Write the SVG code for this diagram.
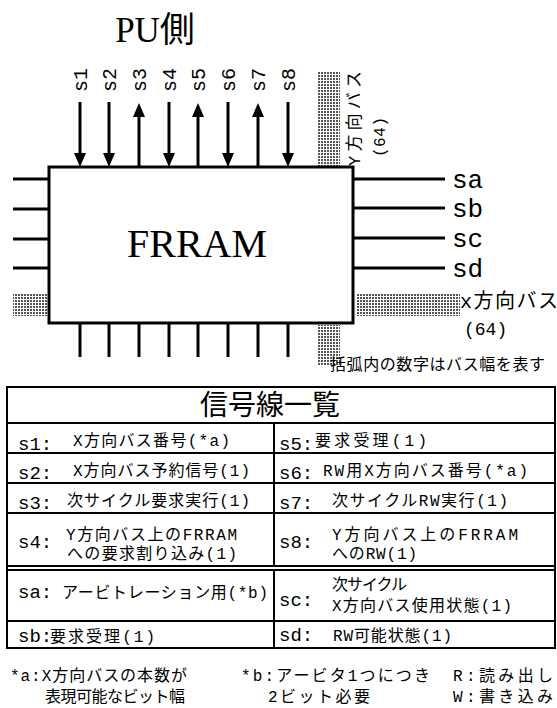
<svg xmlns="http://www.w3.org/2000/svg" width="557" height="708" viewBox="0 0 557 708">
<style>
.serif{font-family:"Liberation Serif","Noto Sans CJK JP",serif;fill:#000}
.mono{font-family:"Liberation Mono",monospace;fill:#000}
.jp{font-family:"Liberation Mono","Noto Sans CJK JP",monospace;fill:#000;font-size:16px}
.lab{font-family:"Liberation Mono",monospace;font-size:19px;fill:#000}
.wire{stroke:#000;stroke-width:3;fill:none}
.tl{stroke:#000;stroke-width:2;fill:none}
.bus{fill:url(#dots);stroke:none}
</style>
<defs>
<pattern id="dots" width="3" height="3" patternUnits="userSpaceOnUse">
<rect width="3" height="3" fill="#fff"/>
<rect width="2" height="2" fill="#555"/>
</pattern>
<marker id="ah" viewBox="0 0 14 12" refX="0" refY="6" markerWidth="14" markerHeight="12" markerUnits="userSpaceOnUse" orient="auto">
<path d="M0,0 L14,6 L0,12 z" fill="#000"/>
</marker>
</defs>
<rect width="557" height="708" fill="#fff"/>

<text class="serif" x="155" y="42" font-size="35" text-anchor="middle">PU側</text>

<g id="buses">
<rect class="bus" x="318" y="72" width="22" height="94"/>
<rect class="bus" x="318" y="325" width="22" height="40"/>
<rect class="bus" x="13" y="293" width="34" height="23"/>
<rect class="bus" x="356" y="293" width="104" height="23"/>
<text class="jp" transform="translate(360,166) rotate(-90)" textLength="95" style="font-size:17px">Y方向バス</text>
<text class="mono" font-size="16" transform="translate(385,157) rotate(-90)" textLength="40">(64)</text>
<text class="jp" x="460" y="308" style="font-size:20px" textLength="98">x方向バス</text>
<text class="mono" x="464" y="335" font-size="18">(64)</text>
<text class="jp" x="330" y="370" textLength="215">括弧内の数字はバス幅を表す</text>
</g>

<g id="connectors">
<line class="wire" x1="80" y1="102" x2="80" y2="153" marker-end="url(#ah)"/>
<line class="wire" x1="109" y1="102" x2="109" y2="153" marker-end="url(#ah)"/>
<line class="wire" x1="139" y1="166" x2="139" y2="117" marker-end="url(#ah)"/>
<line class="wire" x1="169" y1="102" x2="169" y2="153" marker-end="url(#ah)"/>
<line class="wire" x1="198" y1="166" x2="198" y2="117" marker-end="url(#ah)"/>
<line class="wire" x1="228" y1="102" x2="228" y2="153" marker-end="url(#ah)"/>
<line class="wire" x1="258" y1="166" x2="258" y2="117" marker-end="url(#ah)"/>
<line class="wire" x1="288" y1="102" x2="288" y2="153" marker-end="url(#ah)"/>
<path class="wire" d="M13,179H49M13,209H49M13,239H49M13,268H49"/>
<path class="wire" d="M353,179H445M353,208H445M353,238H445M353,268H445"/>
<path class="wire" d="M80,323V357M109,323V357M139,323V357M169,323V357M198,323V357M228,323V357M258,323V357M288,323V357"/>
</g>

<g id="signal-labels">
<text class="mono" font-size="20" text-anchor="middle" transform="translate(87,80) rotate(-90)">s1</text>
<text class="mono" font-size="20" text-anchor="middle" transform="translate(116,80) rotate(-90)">s2</text>
<text class="mono" font-size="20" text-anchor="middle" transform="translate(146,80) rotate(-90)">s3</text>
<text class="mono" font-size="20" text-anchor="middle" transform="translate(176,80) rotate(-90)">s4</text>
<text class="mono" font-size="20" text-anchor="middle" transform="translate(205,80) rotate(-90)">s5</text>
<text class="mono" font-size="20" text-anchor="middle" transform="translate(235,80) rotate(-90)">s6</text>
<text class="mono" font-size="20" text-anchor="middle" transform="translate(265,80) rotate(-90)">s7</text>
<text class="mono" font-size="20" text-anchor="middle" transform="translate(295,80) rotate(-90)">s8</text>
<text class="mono" x="452" y="188" font-size="26">sa</text>
<text class="mono" x="452" y="217" font-size="26">sb</text>
<text class="mono" x="452" y="247" font-size="26">sc</text>
<text class="mono" x="452" y="277" font-size="26">sd</text>
</g>

<g id="frram">
<rect x="49" y="167" width="304" height="156" fill="#fff" stroke="#000" stroke-width="3"/>
<text class="serif" x="197" y="257" font-size="40" text-anchor="middle">FRRAM</text>
</g>

<g id="table">
<rect class="tl" x="7" y="387" width="548" height="261"/>
<path class="tl" d="M7,423H555M7,453H555M7,483H555M7,513H555M7,566H555M7,570H555M7,621H555M274,423V566M274,570V648"/>
<text class="jp" x="270" y="415" text-anchor="middle" style="font-size:28px">信号線一覧</text>

<text class="lab" x="18" y="450">s1:</text>
<text class="jp" x="73" y="446" textLength="157">X方向バス番号(*a)</text>
<text class="lab" x="18" y="479">s2:</text>
<text class="jp" x="73" y="476" textLength="177">X方向バス予約信号(1)</text>
<text class="lab" x="18" y="509">s3:</text>
<text class="jp" x="67" y="506" textLength="183">次サイクル要求実行(1)</text>
<text class="lab" x="18" y="548">s4:</text>
<text class="jp" x="66" y="540" textLength="171">Y方向バス上のFRRAM</text>
<text class="jp" x="67" y="559" textLength="170">への要求割り込み(1)</text>
<text class="lab" x="18" y="598">sa:</text>
<text class="jp" x="62" y="598" textLength="206">アービトレーション用(*b)</text>
<text class="lab" x="18" y="642">sb:</text>
<text class="jp" x="50" y="642" textLength="105">要求受理(1)</text>

<text class="lab" x="279" y="450">s5:</text>
<text class="jp" x="315" y="446" textLength="112">要求受理(1)</text>
<text class="lab" x="279" y="479">s6:</text>
<text class="jp" x="323" y="476" textLength="205">RW用X方向バス番号(*a)</text>
<text class="lab" x="279" y="509">s7:</text>
<text class="jp" x="332" y="506" textLength="176">次サイクルRW実行(1)</text>
<text class="lab" x="279" y="548">s8:</text>
<text class="jp" x="332" y="540" textLength="186">Y方向バス上のFRRAM</text>
<text class="jp" x="332" y="559" textLength="85">へのRW(1)</text>
<text class="lab" x="279" y="606">sc:</text>
<text class="jp" x="332" y="590" textLength="75">次サイクル</text>
<text class="jp" x="332" y="611" textLength="180">X方向バス使用状態(1)</text>
<text class="lab" x="279" y="641">sd:</text>
<text class="jp" x="333" y="641" textLength="119">RW可能状態(1)</text>
</g>

<g id="notes">
<text class="jp" x="10" y="681" textLength="177">*a:X方向バスの本数が</text>
<text class="jp" x="45" y="702" textLength="140">表現可能なビット幅</text>
<text class="jp" x="241" y="681" textLength="189">*b:アービタ1つにつき</text>
<text class="jp" x="268" y="702" textLength="102">2ビット必要</text>
<text class="jp" x="453" y="681" textLength="100">R:読み出し</text>
<text class="jp" x="453" y="702" textLength="100">W:書き込み</text>
</g>
</svg>
